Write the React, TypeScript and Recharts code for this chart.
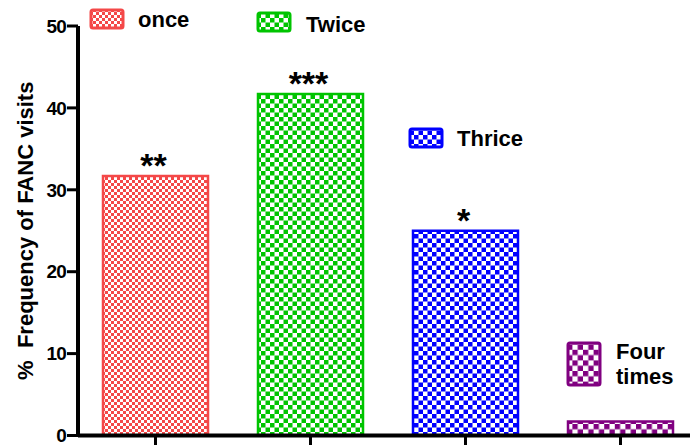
import { BarChart, Bar, XAxis, YAxis, Cell, LabelList } from "recharts";

const categories = ["once", "Twice", "Thrice", "Four times"];
const frequency = [31.7, 41.7, 25.0, 1.7];
const stars = ["**", "***", "*", ""];
const yTicks = [0, 10, 20, 30, 40, 50];

const colors = ["#f44848", "#00c400", "#0000ff", "#800080"];
const cellSizes = [3, 4.5, 4.5, 5.3];

// where each free-floating legend entry sits (swatch box + text origin)
const legendSpots = [
  { x: 91, y: 10, w: 32, h: 18, tx: 138, ty: [27] },
  { x: 258, y: 13, w: 32, h: 18, tx: 306, ty: [32] },
  { x: 410, y: 129, w: 32, h: 18, tx: 457, ty: [146] },
  { x: 568, y: 343, w: 32, h: 42, tx: 616, ty: [359, 384] },
];

const data = categories.map((name, i) => ({
  name,
  value: frequency[i],
  stars: stars[i],
}));

const FONT = "Arial, 'Liberation Sans', sans-serif";

const Checker = ({ id, color, size }: { id: string; color: string; size: number }) => (
  <pattern id={id} width={size * 2} height={size * 2} patternUnits="userSpaceOnUse">
    <rect width={size * 2} height={size * 2} fill="#fff" />
    <rect width={size} height={size} fill={color} />
    <rect x={size} y={size} width={size} height={size} fill={color} />
  </pattern>
);

const StarLabel = (props: any) => {
  const { x, y, width, value } = props;
  if (!value) return null;
  return (
    <text
      x={x + width / 2 - 2}
      y={y + 1}
      textAnchor="middle"
      fontFamily={FONT}
      fontWeight="bold"
      fontSize={34}
      fill="#000"
    >
      {value}
    </text>
  );
};

const YTitle = (props: any) => {
  const vb = props.viewBox || {};
  const cy = (vb.y ?? 26) + (vb.height ?? 410) / 2;
  return (
    <text
      transform={`translate(33, ${cy}) rotate(-90)`}
      textAnchor="middle"
      fontFamily={FONT}
      fontWeight="bold"
      fontSize={22}
      fill="#000"
      style={{ whiteSpace: "pre" }}
    >
      {"%  Frequency of FANC visits"}
    </text>
  );
};

const Legend = () => (
  <svg
    width={690}
    height={445}
    style={{ position: "absolute", left: 0, top: 0, pointerEvents: "none" }}
  >
    <defs>
      {colors.map((c, i) => (
        <Checker key={i} id={`lg-${i}`} color={c} size={cellSizes[i]} />
      ))}
    </defs>
    {categories.map((name, i) => {
      const s = legendSpots[i];
      const lines = name === "Four times" ? ["Four", "times"] : [name];
      return (
        <g key={name}>
          <rect
            x={s.x}
            y={s.y}
            width={s.w}
            height={s.h}
            rx={2}
            fill={`url(#lg-${i})`}
            stroke={colors[i]}
            strokeWidth={3}
          />
          {lines.map((t, j) => (
            <text
              key={t}
              x={s.tx}
              y={s.ty[j]}
              fontFamily={FONT}
              fontWeight="bold"
              fontSize={22}
              fill="#000"
            >
              {t}
            </text>
          ))}
        </g>
      );
    })}
  </svg>
);

export default function App() {
  return (
    <div
      style={{
        position: "fixed",
        left: 0,
        top: 0,
        width: 690,
        height: 445,
        overflow: "hidden",
        background: "#fff",
      }}
    >
      <BarChart
        width={700}
        height={480}
        data={data}
        margin={{ top: 26, right: 2, bottom: 14.5, left: 0 }}
      >
        <defs>
          {colors.map((c, i) => (
            <Checker key={i} id={`bar-${i}`} color={c} size={cellSizes[i]} />
          ))}
        </defs>
        <XAxis
          dataKey="name"
          height={30}
          axisLine={{ stroke: "#000", strokeWidth: 4 }}
          tickLine={{ stroke: "#000", strokeWidth: 3 }}
          tickSize={12}
          tickFormatter={() => ""}
        />
        <YAxis
          width={78}
          domain={[0, 50]}
          ticks={yTicks}
          axisLine={{ stroke: "#000", strokeWidth: 4 }}
          tickLine={{ stroke: "#000", strokeWidth: 3 }}
          tickSize={11}
          tickMargin={1}
          tick={{
            fill: "#000",
            fontFamily: FONT,
            fontWeight: "bold",
            fontSize: 19,
            letterSpacing: -0.8,
          }}
          label={{ content: YTitle }}
        />
        <Bar dataKey="value" barSize={105} isAnimationActive={false} strokeWidth={2.5}>
          {data.map((_, i) => (
            <Cell key={i} fill={`url(#bar-${i})`} stroke={colors[i]} />
          ))}
          <LabelList dataKey="stars" content={StarLabel} />
        </Bar>
      </BarChart>
      <Legend />
    </div>
  );
}
